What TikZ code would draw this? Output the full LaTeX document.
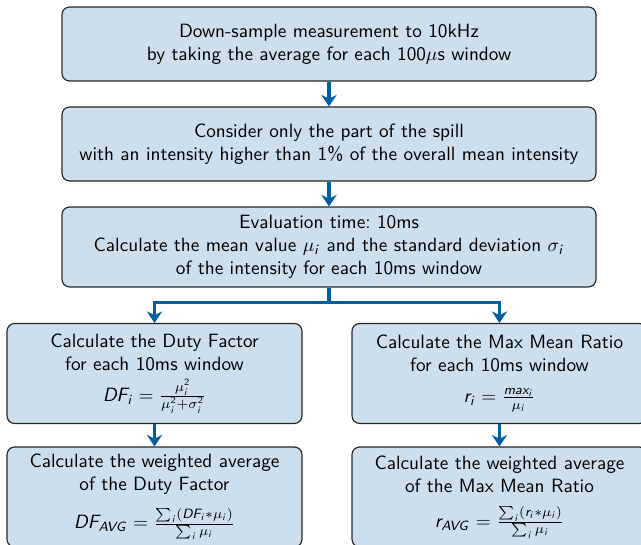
\documentclass[tikz,border=0pt]{standalone}
\usepackage{amsmath}
\usetikzlibrary{arrows.meta}
\renewcommand{\familydefault}{\sfdefault}

% sans slanted letters in math, as on slides
\DeclareSymbolFont{sfslanted}{OT1}{cmss}{m}{sl}
\DeclareSymbolFont{sfupright}{OT1}{cmss}{m}{n}
\DeclareMathSymbol{a}{\mathalpha}{sfslanted}{`a}
\DeclareMathSymbol{i}{\mathalpha}{sfslanted}{`i}
\DeclareMathSymbol{m}{\mathalpha}{sfslanted}{`m}
\DeclareMathSymbol{r}{\mathalpha}{sfslanted}{`r}
\DeclareMathSymbol{x}{\mathalpha}{sfslanted}{`x}
\DeclareMathSymbol{A}{\mathalpha}{sfslanted}{`A}
\DeclareMathSymbol{D}{\mathalpha}{sfslanted}{`D}
\DeclareMathSymbol{F}{\mathalpha}{sfslanted}{`F}
\DeclareMathSymbol{G}{\mathalpha}{sfslanted}{`G}
\DeclareMathSymbol{V}{\mathalpha}{sfslanted}{`V}
\DeclareMathSymbol{2}{\mathalpha}{sfupright}{`2}

\definecolor{boxblue}{RGB}{205,223,236}
\definecolor{flowblue}{RGB}{0,94,163}

\tikzset{
  stepbox/.style={draw=black!85, fill=boxblue, rounded corners=4pt,
    line width=0.6pt, align=center, font=\sffamily, inner sep=2pt},
  widebox/.style={stepbox, minimum width=277.7pt, minimum height=38.5pt},
  halfbox/.style={stepbox, minimum width=153.4pt, minimum height=52pt},
  flow/.style={draw=flowblue, line width=1.6pt,
    -{Stealth[length=6pt,width=8pt,inset=2pt]}},
  stem/.style={draw=flowblue, line width=1.6pt},
}

\begin{document}
\begin{tikzpicture}[x=0.52pt, y=-0.52pt]
    \useasboundingbox (0,0) rectangle (641,545);

    % main chain
    \node[widebox] (sample) at (329,44)
        {Down-sample measurement to 10kHz\\
         by taking the average for each 100$\mu$s window};
    \node[widebox] (cut) at (329,144)
        {Consider only the part of the spill\\
         with an intensity higher than 1\% of the overall mean intensity};
    \node[widebox, minimum height=41.6pt] (eval) at (329,247)
        {Evaluation time:\ 10ms\\
         Calculate the mean value $\mu_i$ and the standard deviation $\sigma_i$\\
         of the intensity for each 10ms window};

    % duty factor branch
    \node[halfbox] (duty) at (154.5,373.5)
        {Calculate the Duty Factor\\
         for each 10ms window\\[4pt]
         $DF_i = \frac{\mu_i^2}{\mu_i^2+\sigma_i^2}$};
    \node[halfbox] (dutyavg) at (154.5,497)
        {Calculate the weighted average\\
         of the Duty Factor\\[6pt]
         $DF_{AVG} = \frac{\sum_i (DF_i * \mu_i)}{\sum_i \mu_i}$};

    % max mean ratio branch
    \node[halfbox] (ratio) at (499.5,373.5)
        {Calculate the Max Mean Ratio\\
         for each 10ms window\\[4pt]
         $r_i = \frac{max_i}{\mu_i}$};
    \node[halfbox] (ratioavg) at (499.5,497)
        {Calculate the weighted average\\
         of the Max Mean Ratio\\[6pt]
         $r_{AVG} = \frac{\sum_i (r_i * \mu_i)}{\sum_i \mu_i}$};

    % connectors
    \draw[flow] (sample) -- (cut);
    \draw[flow] (cut) -- (eval);
    \path (eval.south) ++(0,15) coordinate (fork);
    \draw[stem] (eval.south) -- (fork);
    \draw[flow] (fork) -| (duty.north);
    \draw[flow] (fork) -| (ratio.north);
    \draw[flow] (duty) -- (dutyavg);
    \draw[flow] (ratio) -- (ratioavg);
\end{tikzpicture}
\end{document}
